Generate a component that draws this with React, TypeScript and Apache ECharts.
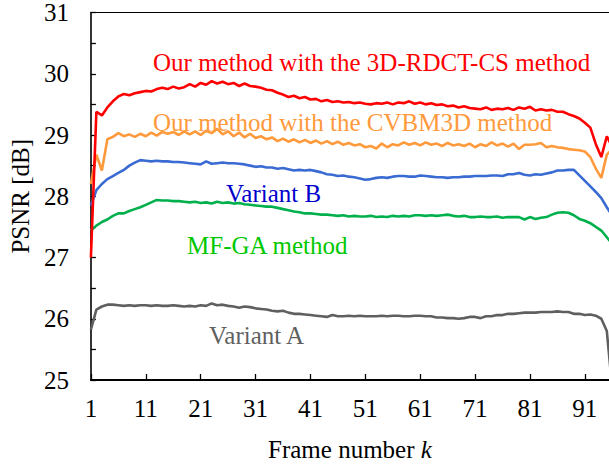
import React, { useEffect, useRef } from "react";
import * as echarts from "echarts";

const frameTicks = [1, 11, 21, 31, 41, 51, 61, 71, 81, 91];
const yLabels = [25, 26, 27, 28, 29, 30, 31];

const seriesNames = [
  "Our method with the 3D-RDCT-CS method",
  "Our method with the CVBM3D method",
  "Variant B",
  "MF-GA method",
  "Variant A",
];

const redRDCT = [
  27.0, 29.38, 29.32, 29.45, 29.55, 29.63, 29.67, 29.65, 29.68, 29.7,
  29.72, 29.71, 29.75, 29.77, 29.75, 29.79, 29.76, 29.78, 29.83, 29.79,
  29.85, 29.82, 29.88, 29.84, 29.87, 29.83, 29.85, 29.8, 29.84, 29.8,
  29.79, 29.77, 29.74, 29.73, 29.69, 29.66, 29.62, 29.64, 29.6, 29.62,
  29.58, 29.59, 29.55, 29.57, 29.54, 29.55, 29.53, 29.54, 29.52, 29.53,
  29.51, 29.5, 29.52, 29.51, 29.53, 29.5, 29.53, 29.52, 29.55, 29.51,
  29.53, 29.5, 29.52, 29.49, 29.5, 29.47, 29.48, 29.45, 29.47, 29.44,
  29.43, 29.42, 29.45, 29.41, 29.43, 29.42, 29.44, 29.41, 29.45, 29.43,
  29.46, 29.4, 29.42, 29.4, 29.41, 29.38, 29.38, 29.34, 29.31, 29.27,
  29.2, 29.12, 28.85, 28.64, 28.98, 28.8,
];

const orangeCVBM3D = [
  28.2, 28.68, 28.42, 28.93, 28.97, 29.03, 28.98, 29.01, 28.97, 29.02,
  28.98, 29.04, 28.99, 29.05, 29.02, 29.05, 29.0, 29.06, 29.01, 29.06,
  29.0, 29.07, 29.03, 29.1, 29.01, 29.06, 28.98, 29.04, 28.96, 29.02,
  28.95, 28.98, 28.93, 28.96, 28.9, 28.94, 28.89, 28.93, 28.88, 28.92,
  28.87, 28.91, 28.86, 28.9, 28.85, 28.89, 28.84, 28.87, 28.83, 28.85,
  28.8, 28.82, 28.78, 28.86, 28.8, 28.85, 28.83, 28.88, 28.84, 28.87,
  28.83, 28.88, 28.84, 28.86, 28.82, 28.87, 28.83, 28.85, 28.82, 28.86,
  28.8, 28.85, 28.82, 28.88, 28.83, 28.86, 28.81, 28.86, 28.77, 28.84,
  28.84, 28.85, 28.87, 28.8, 28.82, 28.8, 28.79, 28.77, 28.76, 28.75,
  28.73, 28.64, 28.45, 28.3, 28.68, 28.77,
];

const blueVariantB = [
  27.85, 28.1, 28.2, 28.28, 28.33, 28.38, 28.43, 28.5, 28.55, 28.59,
  28.58, 28.57, 28.58, 28.57, 28.57, 28.56, 28.56, 28.55, 28.54, 28.53,
  28.52, 28.57, 28.53, 28.54, 28.55, 28.54, 28.54, 28.53, 28.52, 28.5,
  28.48, 28.49, 28.47, 28.47, 28.45, 28.46, 28.44, 28.42, 28.43, 28.42,
  28.43, 28.41, 28.39, 28.36, 28.35, 28.33, 28.34, 28.32, 28.31, 28.29,
  28.27, 28.28, 28.3, 28.31, 28.3, 28.32, 28.33, 28.33, 28.32, 28.32,
  28.34, 28.33, 28.32, 28.31, 28.31, 28.3, 28.31, 28.31, 28.32, 28.32,
  28.33, 28.33, 28.33, 28.34, 28.34, 28.33, 28.36, 28.36, 28.38, 28.35,
  28.34, 28.36, 28.35, 28.37, 28.39, 28.42, 28.42, 28.43, 28.43, 28.34,
  28.25, 28.16, 28.07, 27.97, 27.82, 27.68,
];

const greenMFGA = [
  27.44, 27.52, 27.58, 27.62, 27.68, 27.72, 27.72, 27.76, 27.79, 27.82,
  27.86, 27.9, 27.94, 27.93, 27.93, 27.92, 27.92, 27.91, 27.9, 27.91,
  27.89, 27.9, 27.88, 27.91, 27.89, 27.9, 27.88, 27.89, 27.87, 27.86,
  27.85, 27.84, 27.83, 27.83, 27.81, 27.79, 27.77, 27.75, 27.74, 27.72,
  27.72, 27.71, 27.7, 27.7, 27.69, 27.68, 27.69, 27.67, 27.68, 27.67,
  27.67, 27.68, 27.66, 27.67, 27.66, 27.68, 27.67, 27.68, 27.67, 27.69,
  27.69, 27.68, 27.69, 27.68, 27.69, 27.7, 27.68, 27.67, 27.68, 27.66,
  27.66, 27.67, 27.66, 27.66, 27.67, 27.65, 27.66, 27.66, 27.66, 27.62,
  27.66, 27.63, 27.65, 27.66, 27.7, 27.73, 27.74, 27.73, 27.69, 27.63,
  27.6, 27.56, 27.5, 27.44, 27.33, 27.22,
];

const grayVariantA = [
  25.82, 26.15, 26.2, 26.23, 26.23, 26.22, 26.21, 26.22, 26.21, 26.22,
  26.22, 26.21, 26.22, 26.21, 26.21, 26.22, 26.21, 26.2, 26.21, 26.2,
  26.22, 26.21, 26.25, 26.22, 26.23, 26.21, 26.2, 26.18, 26.2, 26.19,
  26.17, 26.16, 26.15, 26.13, 26.12, 26.13, 26.1, 26.08, 26.08, 26.07,
  26.06, 26.05, 26.04, 26.03, 26.06, 26.04, 26.04, 26.05, 26.04, 26.05,
  26.04, 26.04, 26.04, 26.05, 26.04, 26.05, 26.05, 26.04, 26.04, 26.05,
  26.05, 26.04, 26.04, 26.02, 26.02, 26.01, 26.01, 26.0, 26.01, 26.03,
  26.03, 26.01, 26.04, 26.04, 26.06, 26.06, 26.08, 26.08, 26.09, 26.1,
  26.1, 26.1, 26.11, 26.11, 26.11, 26.12, 26.11, 26.11, 26.08, 26.08,
  26.06, 26.07, 26.05, 26.0, 25.8, 24.85,
];

const allValues = [redRDCT, orangeCVBM3D, blueVariantB, greenMFGA, grayVariantA];
const lineColors = ["#ff0000", "#ff9a3c", "#3a6bd2", "#00b04c", "#5f5f5f"];
const textColors = ["#ff0000", "#ff9a3c", "#0000cc", "#00c800", "#5f5f5f"];
const textPos = [
  [153, 62],
  [153, 122],
  [226, 193],
  [187, 245],
  [209, 335],
];

const FONT = "Liberation Serif, Times New Roman, serif";
const FS = 25;

export default function App() {
  const ref = useRef<HTMLDivElement>(null);
  useEffect(() => {
    if (!ref.current) return;
    const chart = echarts.init(ref.current, undefined, { renderer: "svg" });
    const series = allValues.map((vals, si) => ({
      name: seriesNames[si],
      type: "line",
      data: vals.map((v, i) => [i + 1, v]),
      showSymbol: false,
      symbol: "none",
      clip: true,
      lineStyle: { color: lineColors[si], width: 2.6 },
      z: 10 - si,
    }));
    chart.setOption({
      animation: false,
      backgroundColor: "#ffffff",
      textStyle: { fontFamily: FONT },
      grid: { left: 87, right: 0, top: 12, bottom: 84, containLabel: false },
      xAxis: [
        {
          type: "value",
          min: 1,
          max: 95.4,
          interval: 10,
          name: "{n|Frame number }{i|k}",
          nameLocation: "middle",
          nameGap: 57,
          nameTextStyle: {
            color: "#000",
            fontSize: FS,
            fontFamily: FONT,
            rich: {
              n: { fontSize: FS, fontFamily: FONT, color: "#000" },
              i: { fontStyle: "italic", fontSize: FS, fontFamily: FONT, color: "#000" },
            },
          },
          axisLine: { show: true, onZero: false, lineStyle: { color: "#000", width: 2 } },
          axisTick: { show: true, inside: true, length: 6, customValues: frameTicks, lineStyle: { color: "#000", width: 1.3 } },
          axisLabel: {
            customValues: frameTicks,
            color: "#000",
            fontSize: FS,
            fontFamily: FONT,
            margin: 16,
            formatter: (v: number) => (frameTicks.includes(Math.round(v * 1000) / 1000) ? String(v) : ""),
          },
          splitLine: { show: false },
        },
        {
          type: "value",
          position: "top",
          min: 1,
          max: 95.4,
          axisLine: { show: true, onZero: false, lineStyle: { color: "#000", width: 1.2 } },
          axisTick: { show: false },
          axisLabel: { show: false },
          splitLine: { show: false },
        },
      ],
      yAxis: {
        type: "value",
        min: 25,
        max: 31,
        interval: 0.5,
        name: "PSNR [dB]",
        nameLocation: "middle",
        nameGap: 56,
        nameTextStyle: { color: "#000", fontSize: FS, fontFamily: FONT },
        axisLine: { show: true, onZero: false, lineStyle: { color: "#000", width: 1.6 } },
        axisTick: { show: true, inside: true, length: 5, lineStyle: { color: "#000", width: 1.3 } },
        axisLabel: {
          color: "#000",
          fontSize: FS,
          fontFamily: FONT,
          margin: 22,
          formatter: (v: number) => (yLabels.includes(v) ? String(v) : ""),
        },
        splitLine: { show: false },
      },
      graphic: seriesNames.map((name, i) => ({
        type: "text",
        x: textPos[i][0],
        y: textPos[i][1],
        z: 100,
        style: {
          text: name,
          fill: textColors[i],
          fontSize: FS,
          fontFamily: FONT,
          textAlign: "left",
          textVerticalAlign: "middle",
        },
      })),
      series,
    });
    return () => chart.dispose();
  }, []);
  return (
    <div
      ref={ref}
      style={{ position: "fixed", left: 0, top: 0, width: 609, height: 467, background: "#fff" }}
    />
  );
}
